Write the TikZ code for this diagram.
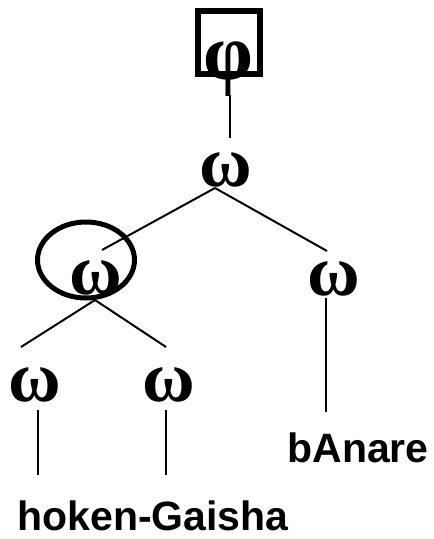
\documentclass[tikz,border=0pt]{standalone}
\usepackage{fontspec}
\usetikzlibrary{shapes.geometric}
\setmainfont{Liberation Serif}
\newfontfamily\labelfont{Liberation Sans}
\begin{document}
\begin{tikzpicture}[x=1pt,y=-1pt,
  greek/.style={inner sep=0pt,font=\bfseries\fontsize{72}{72}\selectfont},
  word/.style={inner sep=0pt,anchor=base,font=\labelfont\bfseries\fontsize{41}{41}\selectfont},
  edge/.style={line width=2pt},
  thick mark/.style={line width=6pt}]
\useasboundingbox (0,0) rectangle (434,539);
% nodes
\node[greek,font=\bfseries\fontsize{80}{80}\selectfont] (phi) at (228,69) {φ};
\node[draw,thick mark,minimum width=62pt,minimum height=63pt,inner sep=0pt] (phibox) at (229,42.5) {};
\node[greek] (w0) at (226,170) {ω};
\node[greek] (w1) at (96,278) {ω};
\node[draw,ellipse,line width=5pt,minimum width=97pt,minimum height=76pt,inner sep=0pt] (mark) at (86,260) {};
\node[greek] (w3) at (334,279) {ω};
\node[greek] (w2a) at (35,385) {ω};
\node[greek] (w2b) at (169,385) {ω};
\node[word] (hoken) at (153,530) {hoken-Gaisha};
\node[word] (banare) at (358,462) {bAnare};
% connectors
\draw[edge] ([xshift=1pt,yshift=-52.5pt]phibox.center) -- ([xshift=4pt,yshift=32pt]w0.center);
\draw[edge] ([xshift=-11pt,yshift=-18pt]w0.center) -- ([xshift=6pt,yshift=28pt]w1.center);
\draw[edge] ([xshift=-11pt,yshift=-18pt]w0.center) -- ([xshift=-7pt,yshift=28pt]w3.center);
\draw[edge] ([xshift=-1pt,yshift=-22pt]w1.center) -- ([xshift=-14pt,yshift=38pt]w2a.center);
\draw[edge] ([xshift=-1pt,yshift=-22pt]w1.center) -- ([xshift=-3pt,yshift=38pt]w2b.center);
\draw[edge] ([xshift=3pt,yshift=-25pt]w2a.center) -- ([xshift=-115pt,yshift=55pt]hoken.base);
\draw[edge] ([xshift=-3pt,yshift=-25pt]w2b.center) -- ([xshift=13pt,yshift=55pt]hoken.base);
\draw[edge] ([xshift=-8pt,yshift=-19pt]w3.center) -- ([xshift=-32pt,yshift=50pt]banare.base);
\end{tikzpicture}
\end{document}
